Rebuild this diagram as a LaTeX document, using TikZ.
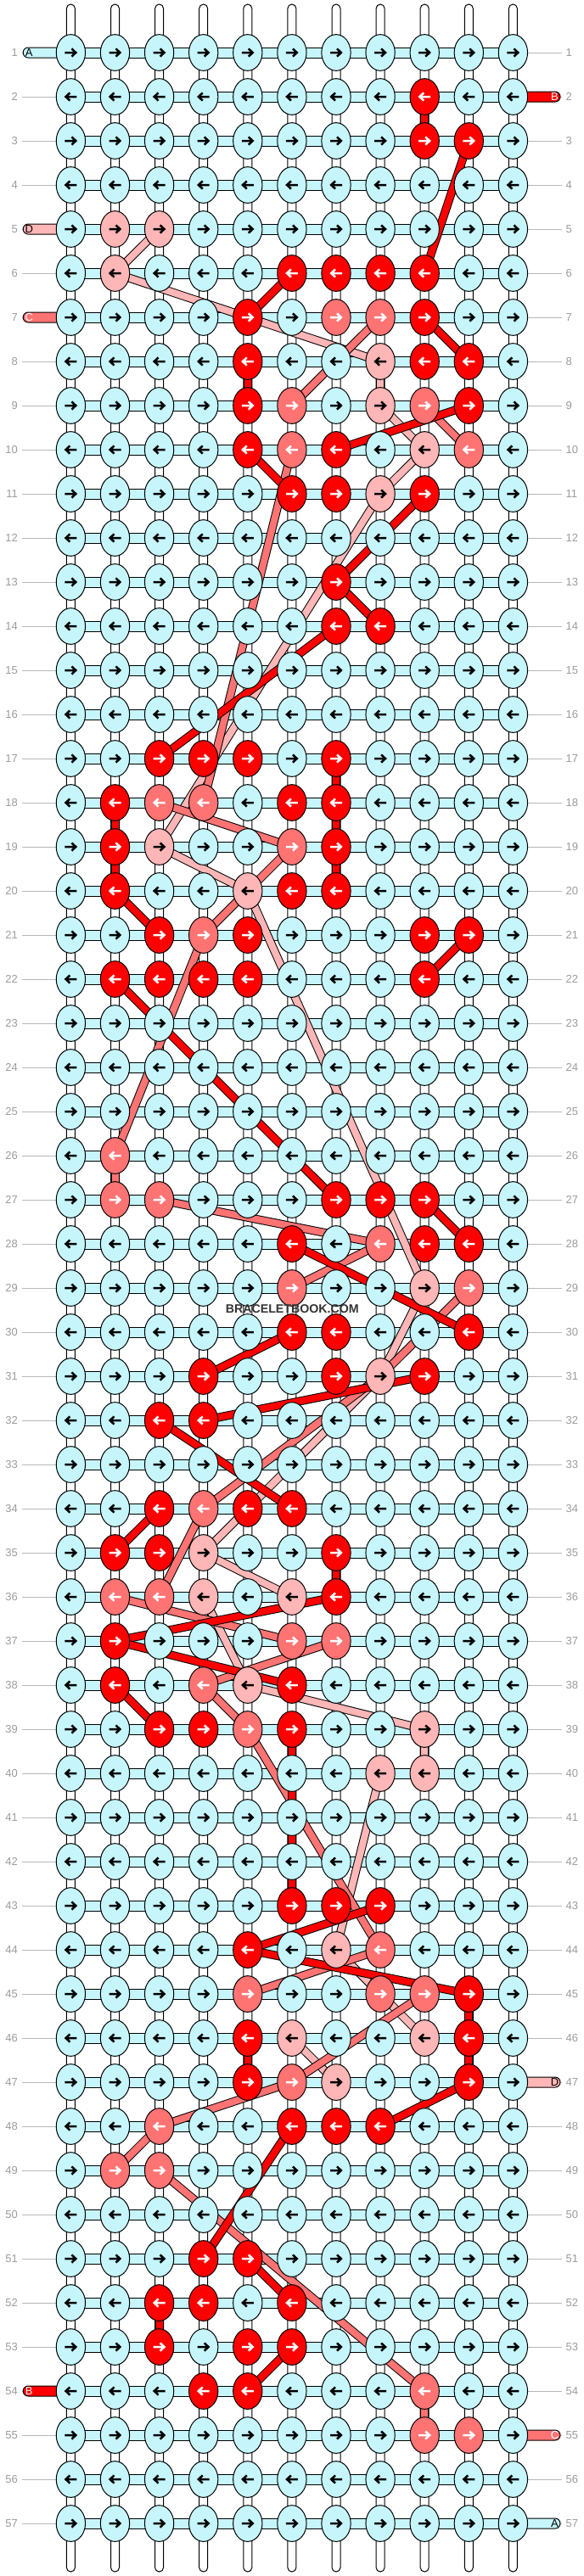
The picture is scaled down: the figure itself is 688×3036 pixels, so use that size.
\documentclass[tikz,border=0pt]{standalone}
\usepackage{fontspec}
\setmainfont{Liberation Sans}
\usetikzlibrary{shapes.geometric}

\definecolor{knotc}{HTML}{C6F6FC}
\definecolor{knotr}{HTML}{FF0000}
\definecolor{knots}{HTML}{FF7373}
\definecolor{knotp}{HTML}{FFB6B6}
\colorlet{arrowc}{black}
\colorlet{arrowr}{white}
\colorlet{arrows}{white}
\colorlet{arrowp}{black}
\definecolor{rulegray}{HTML}{B8B8B8}
\definecolor{labelgray}{HTML}{9C9C9C}
\definecolor{markgray}{HTML}{333333}

\pgfdeclarelayer{bars}
\pgfdeclarelayer{threads}
\pgfsetlayers{bars,threads,main}

\tikzset{
  knot/.style={ellipse, draw, line width=1pt, inner sep=0pt,
    minimum width=34.3pt, minimum height=42.7pt},
  arrowline/.style={line width=2.5pt, line cap=butt, line join=miter},
  hbar/.style={draw, line width=1pt, fill=knotc},
  vbar/.style={draw, line width=1pt, fill=white, rounded corners=5pt},
  stub/.style={draw, line width=1pt, rounded corners=6pt},
  thread/.style={double=#1, double distance=8pt, line width=1pt},
  rowlabel/.style={text=labelgray, inner sep=0pt, font=\fontsize{13}{13}\selectfont},
  stubtext/.style={inner sep=0pt, font=\fontsize{13}{13}\selectfont},
  rowrule/.style={draw=rulegray, line width=1pt}
}

\begin{document}
\begin{tikzpicture}[x=1pt, y=-1pt]
\useasboundingbox (0,0) rectangle (688,3036);

% knots, row by row
\foreach \r/\pat in {
  1/{c,c,c,c,c,c,c,c,c,c,c}, 2/{c,c,c,c,c,c,c,c,r,c,c}, 3/{c,c,c,c,c,c,c,c,r,r,c},
  4/{c,c,c,c,c,c,c,c,c,c,c}, 5/{c,p,p,c,c,c,c,c,c,c,c}, 6/{c,p,c,c,c,r,r,r,r,c,c},
  7/{c,c,c,c,r,c,s,s,r,c,c}, 8/{c,c,c,c,r,c,c,p,r,r,c}, 9/{c,c,c,c,r,s,c,p,s,r,c},
  10/{c,c,c,c,r,s,r,c,p,s,c}, 11/{c,c,c,c,c,r,r,p,r,c,c}, 12/{c,c,c,c,c,c,c,c,c,c,c},
  13/{c,c,c,c,c,c,r,c,c,c,c}, 14/{c,c,c,c,c,c,r,r,c,c,c}, 15/{c,c,c,c,c,c,c,c,c,c,c},
  16/{c,c,c,c,c,c,c,c,c,c,c}, 17/{c,c,r,r,r,c,r,c,c,c,c}, 18/{c,r,s,s,c,r,r,c,c,c,c},
  19/{c,r,p,c,c,s,r,c,c,c,c}, 20/{c,r,c,c,p,r,r,c,c,c,c}, 21/{c,c,r,s,r,c,c,c,r,r,c},
  22/{c,r,r,r,r,c,c,c,r,c,c}, 23/{c,c,c,c,c,c,c,c,c,c,c}, 24/{c,c,c,c,c,c,c,c,c,c,c},
  25/{c,c,c,c,c,c,c,c,c,c,c}, 26/{c,s,c,c,c,c,c,c,c,c,c}, 27/{c,s,s,c,c,c,r,r,r,c,c},
  28/{c,c,c,c,c,r,c,s,r,r,c}, 29/{c,c,c,c,c,s,c,c,p,s,c}, 30/{c,c,c,c,c,r,r,c,c,r,c},
  31/{c,c,c,r,c,c,r,p,r,c,c}, 32/{c,c,r,r,c,c,c,c,c,c,c}, 33/{c,c,c,c,c,c,c,c,c,c,c},
  34/{c,c,r,s,r,r,c,c,c,c,c}, 35/{c,r,r,p,c,c,r,c,c,c,c}, 36/{c,s,s,p,c,p,r,c,c,c,c},
  37/{c,r,c,c,c,s,s,c,c,c,c}, 38/{c,r,c,s,p,r,c,c,c,c,c}, 39/{c,c,r,r,s,r,c,c,p,c,c},
  40/{c,c,c,c,c,c,c,p,p,c,c}, 41/{c,c,c,c,c,c,c,c,c,c,c}, 42/{c,c,c,c,c,c,c,c,c,c,c},
  43/{c,c,c,c,c,r,r,r,c,c,c}, 44/{c,c,c,c,r,c,p,s,c,c,c}, 45/{c,c,c,c,s,c,c,s,s,r,c},
  46/{c,c,c,c,r,p,c,c,p,r,c}, 47/{c,c,c,c,r,s,p,c,c,r,c}, 48/{c,c,s,c,c,r,r,r,c,c,c},
  49/{c,s,s,c,c,c,c,c,c,c,c}, 50/{c,c,c,c,c,c,c,c,c,c,c}, 51/{c,c,c,r,r,c,c,c,c,c,c},
  52/{c,c,r,r,c,r,c,c,c,c,c}, 53/{c,c,r,c,r,r,c,c,c,c,c}, 54/{c,c,c,r,r,c,c,c,s,c,c},
  55/{c,c,c,c,c,c,c,c,s,s,c}, 56/{c,c,c,c,c,c,c,c,c,c,c}, 57/{c,c,c,c,c,c,c,c,c,c,c}}{
  \pgfmathsetmacro{\ky}{62+52*(\r-1)}
  \pgfmathsetmacro{\dir}{2*mod(\r,2)-1}
  \foreach \k [count=\c] in \pat {
    \pgfmathsetmacro{\kx}{83.4+52.1*(\c-1)}
    \node[knot, fill=knot\k] (k-\r-\c) at (\kx,\ky) {};
    \draw[arrowline, draw=arrow\k, shift={(\kx,\ky)}, xscale=\dir]
      (-7,0) -- (5.5,0) (1,-4.6) -- (5.9,0) -- (1,4.6);
  }
  \node[rowlabel, anchor=east] (ll-\r) at (21,\ky) {\r};
  \node[rowlabel, anchor=west] (rl-\r) at (666.5,\ky) {\r};
}

\node[font=\bfseries\fontsize{14.2}{14.2}\selectfont, text=markgray, inner sep=0pt]
  (mark) at (344.3,1543) {BRACELETBOOK.COM};

\begin{pgfonlayer}{bars}
  \fill[white] (0,0) rectangle (688,3036);
  % strings
  \foreach \c in {1,...,11}{
    \pgfmathsetmacro{\kx}{83.4+52.1*(\c-1)}
    \draw[vbar] (\kx-5,5) rectangle (\kx+5,3031);
  }
  % rows of thread A
  \foreach \r in {1,...,57}{
    \draw[hbar] ([yshift=6pt]k-\r-1.center) rectangle ([yshift=-6pt]k-\r-11.center);
    \draw[rowrule] ([xshift=5pt]ll-\r.east) -- (k-\r-1.center);
    \draw[rowrule] (k-\r-11.center) -- ([xshift=-4.5pt]rl-\r.west);
  }
  % loose ends
  \foreach \r/\k/\t/\tc in {1/c/A/black, 5/p/D/black, 7/s/C/white, 54/r/B/white}{
    \pgfmathsetmacro{\ky}{62+52*(\r-1)}
    \draw[stub, fill=knot\k] (27.2,\ky-6) rectangle (80,\ky+6);
    \node[stubtext, text=\tc] (end-\r) at (34.2,\ky) {\t};
  }
  \foreach \r/\k/\t/\tc in {2/r/B/white, 47/p/D/black, 55/s/C/white, 57/c/A/black}{
    \pgfmathsetmacro{\ky}{62+52*(\r-1)}
    \draw[stub, fill=knot\k] (600,\ky-6) rectangle (660,\ky+6);
    \node[stubtext, text=\tc] (end-\r) at (653.5,\ky) {\t};
  }
\end{pgfonlayer}

\begin{pgfonlayer}{threads}
  % thread D
  \foreach \a/\b in {5-3/6-2, 6-2/8-8, 8-8/9-8, 9-8/10-9, 10-9/11-8, 11-8/19-3,
    19-3/20-5, 20-5/29-9, 29-9/31-8, 31-8/35-4, 35-4/36-6, 36-4/38-5, 38-5/39-9,
    39-9/40-9, 40-8/44-7, 44-7/46-9, 46-6/47-7}
    \draw[thread=knotp] (k-\a.center) -- (k-\b.center);
  % thread C
  \foreach \a/\b in {7-8/9-6, 9-9/10-10, 10-6/18-4, 18-3/19-6, 19-6/21-4, 21-4/26-2,
    26-2/27-2, 27-3/28-8, 28-8/29-6, 29-10/31-8, 31-8/34-4, 34-4/36-3, 36-2/37-6,
    37-7/38-4, 38-4/39-5, 39-5/44-8, 44-8/45-5, 45-9/47-6, 47-6/48-3, 48-3/49-2,
    49-3/54-9, 54-9/55-9}
    \draw[thread=knots] (k-\a.center) -- (k-\b.center);
  % thread B
  \foreach \a/\b in {2-9/3-9, 3-10/6-9, 6-6/7-5, 8-5/9-5, 7-9/8-10, 9-10/10-7,
    10-5/11-6, 11-9/13-7, 13-7/14-8, 14-7/17-3, 17-7/20-7, 18-2/20-2, 20-2/21-3,
    21-10/22-9, 22-2/27-7, 27-9/28-10, 28-6/30-10, 30-6/31-4, 31-9/32-4, 32-3/34-6,
    34-3/35-2, 35-7/36-7, 36-7/37-2, 37-2/38-6, 38-2/39-3, 39-6/43-6, 43-8/44-5,
    44-5/45-10, 45-10/47-10, 46-5/47-5, 47-10/48-8, 48-6/51-4, 51-5/52-6, 52-3/53-3,
    53-6/54-5}
    \draw[thread=knotr] (k-\a.center) -- (k-\b.center);
\end{pgfonlayer}
\end{tikzpicture}
\end{document}
